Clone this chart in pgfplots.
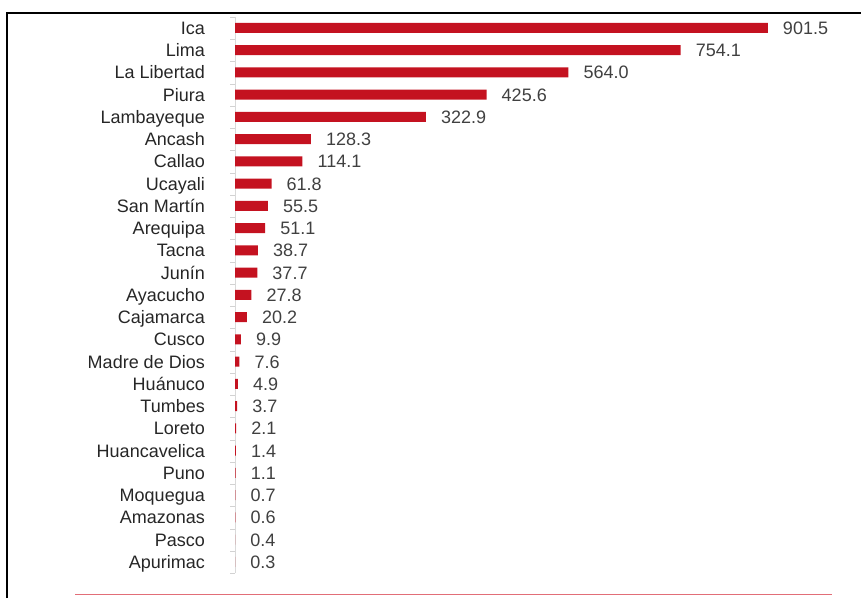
\documentclass[border=0pt]{standalone}
\usepackage{pgfplots}
\pgfplotsset{compat=1.18}
\usepackage{fontspec}
\setmainfont{Liberation Sans}
\definecolor{barred}{RGB}{196,18,32}
\definecolor{linered}{RGB}{226,110,120}
\definecolor{labtext}{RGB}{38,38,38}
\definecolor{valtext}{RGB}{64,64,64}
\begin{document}
\begin{tikzpicture}
\useasboundingbox (0pt,0pt) rectangle (861pt,598pt);
% frame and bottom rule
\draw[line width=1.6pt] (7pt,0pt) -- (7pt,585pt) -- (861pt,585pt);
\draw[linered, line width=1pt] (75pt,4pt) -- (832pt,4pt);
\begin{axis}[
    at={(235pt,24.9pt)}, anchor=south west,
    scale only axis,
    width=591pt, height=556.25pt,
    xmin=0, xmax=1000,
    ymin=-0.5, ymax=24.5,
    y dir=reverse,
    clip=false,
    axis lines*=left,
    x axis line style={draw=none},
    y axis line style={-, draw=gray!30},
    xtick=\empty,
    ytick={0,...,24},
    yticklabels={Ica, Lima, La Libertad, Piura, Lambayeque, Ancash, Callao,
      Ucayali, San Martín, Arequipa, Tacna, Junín, Ayacucho, Cajamarca, Cusco,
      Madre de Dios, Huánuco, Tumbes, Loreto, Huancavelica, Puno, Moquegua,
      Amazonas, Pasco, Apurimac},
    major tick length=0pt,
    minor ytick={-0.5,0.5,...,24.5},
    minor tick length=5pt,
    tick align=outside,
    minor tick style={draw=gray!35},
    yticklabel style={font=\fontsize{18}{20}\selectfont, text=labtext,
      anchor=east, inner sep=0pt, xshift=-30pt,
      text height=13pt, text depth=0pt},
    /pgf/number format/assume math mode=true,
    nodes near coords={\pgfmathprintnumber[fixed,zerofill,precision=1]{\pgfplotspointmeta}},
    point meta=x,
    every node near coord/.append style={font=\fontsize{18}{20}\selectfont,
      text=valtext, anchor=west, inner sep=0pt, xshift=15pt,
      text height=13pt, text depth=0pt},
]
\addplot[xbar, bar width=10pt, fill=barred, draw=none] coordinates {
    (901.5,0) (754.1,1) (564.0,2) (425.6,3) (322.9,4) (128.3,5) (114.1,6)
    (61.8,7) (55.5,8) (51.1,9) (38.7,10) (37.7,11) (27.8,12) (20.2,13)
    (9.9,14) (7.6,15) (4.9,16) (3.7,17) (2.1,18) (1.4,19) (1.1,20)
    (0.7,21) (0.6,22) (0.4,23) (0.3,24)
};
\end{axis}
\end{tikzpicture}
\end{document}
